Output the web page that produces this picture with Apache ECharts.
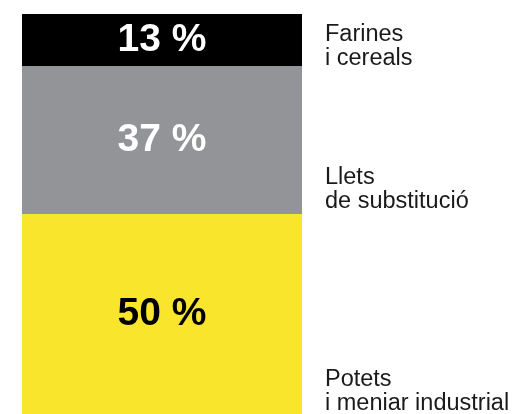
<!DOCTYPE html>
<html><head><meta charset="utf-8">
<script src="https://cdn.jsdelivr.net/npm/echarts@6/dist/echarts.min.js"></script>
<style>html,body{margin:0;padding:0;background:#fff}#c{width:514px;height:414px}</style>
</head><body><div id="c"></div>
<script>
// Bottom-to-top stacking order
const categories = ['Potets\ni meniar industrial', 'Llets\nde substitució', 'Farines\ni cereals'];
const values = [50, 37, 13];
const percentLabels = ['50 %', '37 %', '13 %'];
const colors = ['#f9e62c', '#939498', '#000000'];
const labelColors = ['#000000', '#ffffff', '#ffffff'];
const nameOffsets = [[163, 2], [163, 0], [163, 5]];

const chart = echarts.init(document.getElementById('c'), null, {renderer: 'canvas'});
let cum = 0;
const series = values.map((v, i) => {
  const base = cum;
  cum += v;
  return {
    type: 'bar',
    stack: 'total',
    barWidth: '100%',
    barCategoryGap: 0,
    silent: true,
    data: [v],
    itemStyle: {color: colors[i]},
    label: {
      show: true,
      position: 'inside',
      formatter: percentLabels[i],
      color: labelColors[i],
      fontFamily: '"Liberation Sans", Arial, sans-serif',
      fontWeight: 'bold',
      fontSize: 39
    },
    markPoint: {
      symbol: 'circle',
      symbolSize: 0,
      silent: true,
      data: [{coord: ['a', base], value: categories[i]}],
      label: {
        show: true,
        position: 'inside',
        formatter: categories[i],
        align: 'left',
        verticalAlign: 'bottom',
        offset: nameOffsets[i],
        color: '#1a1a1a',
        fontFamily: '"Liberation Sans", Arial, sans-serif',
        fontSize: 23.5,
        lineHeight: 24
      }
    }
  };
});

chart.setOption({
  animation: false,
  grid: {left: 22, top: 14, width: 280, height: 403},
  xAxis: {type: 'category', data: ['a'], show: false},
  yAxis: {type: 'value', min: 0, max: 100, show: false},
  series: series
});
</script></body></html>
